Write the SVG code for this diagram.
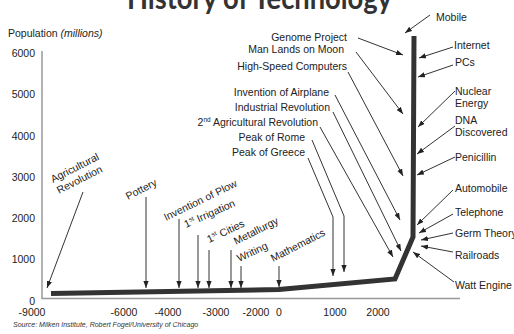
<svg xmlns="http://www.w3.org/2000/svg" width="514" height="334" viewBox="0 0 514 334">
  <style>
    text { font-family: "Liberation Sans", Arial, sans-serif; font-size: 10.5px; fill: #222; }
    .title { font-family: Lato, "Open Sans", sans-serif; font-weight: bold; font-size: 30px; fill: #333; }
    .end { text-anchor: end; }
    .mid { text-anchor: middle; }
    .src { font-size: 7px; font-style: italic; fill: #333; }
    .sup { font-size: 6.5px; }
    .axis { stroke: #999; stroke-width: 1.5; fill: none; }
    .curve { stroke: #333; stroke-width: 5; fill: none; stroke-linejoin: miter; }
    .arr { stroke: #333; stroke-width: 1; fill: none; marker-end: url(#head); }
  </style>
  <defs>
    <marker id="head" viewBox="0 0 8 6" refX="8" refY="3" markerWidth="7" markerHeight="5.5" markerUnits="userSpaceOnUse" orient="auto">
      <path d="M0,0 L8,3 L0,6 z" fill="#222"/>
    </marker>
  </defs>
  <rect width="514" height="334" fill="#fff"/>

  <text class="title" x="127" y="9" textLength="265" lengthAdjust="spacingAndGlyphs">History of Technology</text>

  <!-- axes and scale -->
  <g id="axes">
    <path class="axis" d="M42,51 V298.5 H460"/>
    <text x="8" y="37">Population <tspan font-style="italic">(millions)</tspan></text>
    <text class="end" x="35" y="57">6000</text>
    <text class="end" x="35" y="98">5000</text>
    <text class="end" x="35" y="139.5">4000</text>
    <text class="end" x="35" y="181">3000</text>
    <text class="end" x="35" y="222">2000</text>
    <text class="end" x="35" y="263">1000</text>
    <text class="end" x="35" y="305">0</text>
    <text class="mid" x="32" y="315.5">-9000</text>
    <text class="mid" x="124" y="315.5">-6000</text>
    <text class="mid" x="168" y="315.5">-4000</text>
    <text class="mid" x="216" y="315.5">-3000</text>
    <text class="mid" x="256" y="315.5">-2000</text>
    <text class="mid" x="279" y="315.5">0</text>
    <text class="mid" x="335" y="315.5">1000</text>
    <text class="mid" x="378" y="315.5">2000</text>
  </g>

  <!-- population curve -->
  <g id="population">
    <path class="curve" d="M51,293.5 L279,289.5 L395,279 L413,237 L414,36"/>
  </g>

  <!-- early events (rotated labels) -->
  <g id="agricultural-revolution">
    <text transform="translate(53,183) rotate(-27)">Agricultural</text>
    <text transform="translate(59,194) rotate(-27)">Revolution</text>
  </g>
  <g id="pottery"><text transform="translate(128,200) rotate(-27)">Pottery</text></g>
  <g id="plow"><text transform="translate(166,221) rotate(-26)">Invention of Plow</text></g>
  <g id="irrigation"><text transform="translate(186,228) rotate(-24)">1<tspan class="sup" dy="-4">st</tspan><tspan dy="4"> Irrigation</tspan></text></g>
  <g id="cities"><text transform="translate(209,243) rotate(-25)">1<tspan class="sup" dy="-4">st</tspan><tspan dy="4"> Cities</tspan></text></g>
  <g id="metallurgy"><text transform="translate(236,245) rotate(-27)">Metallurgy</text></g>
  <g id="writing"><text transform="translate(239,262) rotate(-25)">Writing</text></g>
  <g id="mathematics"><text transform="translate(273,262) rotate(-27)">Mathematics</text></g>

  <!-- labels on the left of the rise -->
  <g id="genome"><text class="end" x="347" y="41">Genome Project</text></g>
  <g id="moon"><text class="end" x="344" y="53">Man Lands on Moon</text></g>
  <g id="computers"><text class="end" x="347" y="70">High-Speed Computers</text></g>
  <g id="airplane"><text class="end" x="329" y="96">Invention of Airplane</text></g>
  <g id="industrial"><text class="end" x="330" y="111">Industrial Revolution</text></g>
  <g id="agri2"><text class="end" x="318" y="126">2<tspan class="sup" dy="-4">nd</tspan><tspan dy="4"> Agricultural Revolution</tspan></text></g>
  <g id="rome"><text class="end" x="305" y="141">Peak of Rome</text></g>
  <g id="greece"><text class="end" x="305" y="156">Peak of Greece</text></g>

  <!-- labels on the right of the rise -->
  <g id="mobile"><text x="436" y="21">Mobile</text></g>
  <g id="internet"><text x="454" y="49">Internet</text></g>
  <g id="pcs"><text x="455" y="66">PCs</text></g>
  <g id="nuclear"><text x="455" y="95">Nuclear</text><text x="455" y="107">Energy</text></g>
  <g id="dna"><text x="455" y="124">DNA</text><text x="455" y="136">Discovered</text></g>
  <g id="penicillin"><text x="455" y="161">Penicillin</text></g>
  <g id="automobile"><text x="455" y="192">Automobile</text></g>
  <g id="telephone"><text x="455" y="216">Telephone</text></g>
  <g id="germ"><text x="455" y="237">Germ Theory</text></g>
  <g id="railroads"><text x="455" y="259">Railroads</text></g>
  <g id="watt"><text x="455" y="289">Watt Engine</text></g>

  <!-- pointer arrows -->
  <g id="connectors">
    <path class="arr" d="M83,192 L47,288"/>
    <path class="arr" d="M146,197 V288"/>
    <path class="arr" d="M179,219 V288"/>
    <path class="arr" d="M198,235 V288"/>
    <path class="arr" d="M209,250 V288"/>
    <path class="arr" d="M231,250 V288"/>
    <path class="arr" d="M241,266 V288"/>
    <path class="arr" d="M279,266 V287"/>

    <path class="arr" d="M358,38 L403,55"/>
    <path class="arr" d="M356,52 L403,114"/>
    <path class="arr" d="M348,72 L403,176"/>
    <path class="arr" d="M335,95 L400,220"/>
    <path class="arr" d="M333,112 L401,251"/>
    <path class="arr" d="M320,127 L393,257"/>
    <path class="arr" d="M312,140 L344,216 V272"/>
    <path class="arr" d="M308,158 L333,217 V276"/>

    <path class="arr" d="M430,15 L405,33"/>
    <path class="arr" d="M453,47 L419,58"/>
    <path class="arr" d="M453,65 L418,77"/>
    <path class="arr" d="M455,91 L418,127"/>
    <path class="arr" d="M455,126 L417,154"/>
    <path class="arr" d="M455,157 L417,175"/>
    <path class="arr" d="M453,190 L417,225"/>
    <path class="arr" d="M453,214 L419,233"/>
    <path class="arr" d="M453,233 L421,240"/>
    <path class="arr" d="M453,252 L421,246"/>
    <path class="arr" d="M454,282 L413,252"/>
  </g>

  <text class="src" x="13" y="327">Source: Milken Institute, Robert Fogel/University of Chicago</text>
</svg>
